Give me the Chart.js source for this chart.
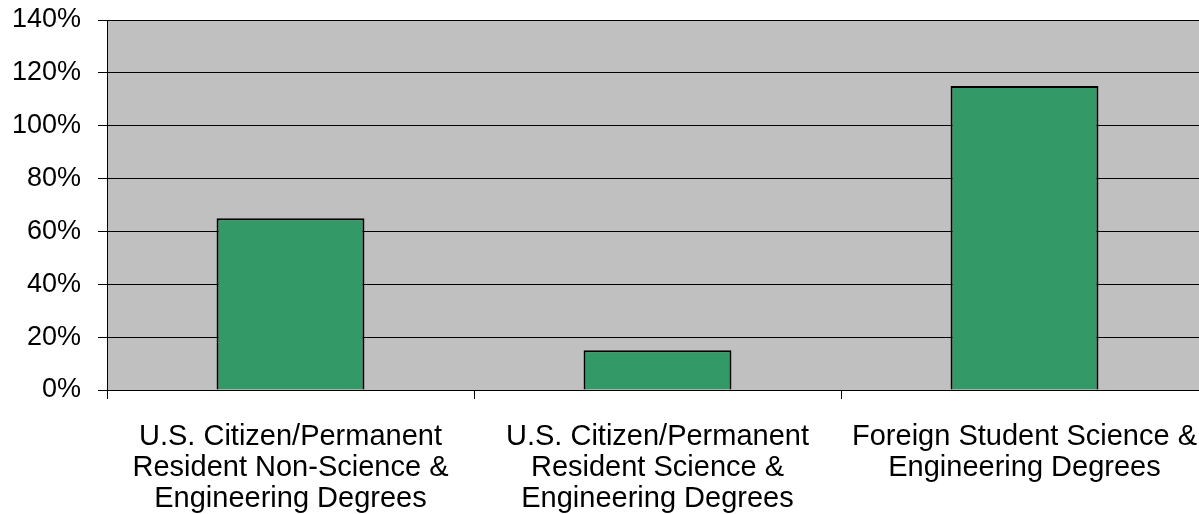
<!DOCTYPE html>
<html>
<head>
<meta charset="utf-8">
<script src="https://cdn.jsdelivr.net/npm/chart.js@4/dist/chart.umd.min.js"></script>
<style>
  body { margin: 0; background: #fff; }
  canvas { display: block; }
</style>
</head>
<body>
<canvas id="chart" width="1199" height="514"></canvas>
<script>
// Chart data
const categories = [
  ["U.S. Citizen/Permanent", "Resident Non-Science &", "Engineering Degrees"],
  ["U.S. Citizen/Permanent", "Resident Science &", "Engineering Degrees"],
  ["Foreign Student Science &", "Engineering Degrees"]
];
const growthValues = [65, 15, 115];
const yMax = 140;
const yStep = 20;

//Gray plot area behind the bars
const plotBackground = {
  id: "plotBackground",
  beforeDraw(chart) {
    const { ctx, chartArea } = chart;
    ctx.save();
    ctx.fillStyle = "#C0C0C0";
    ctx.fillRect(chartArea.left, chartArea.top, chartArea.right - chartArea.left, chartArea.bottom - chartArea.top);
    ctx.restore();
  }
};

//The original plot runs a little past the right edge of the picture
const extendRight = {
  id: "extendRight",
  afterLayout(chart) {
    const rightEdge = chart.width + 9;
    const xScale = chart.scales.x;
    xScale.right = rightEdge;
    xScale.width = xScale.right - xScale.left;
    xScale.configure();
    chart.chartArea.right = rightEdge;
    chart.chartArea.width = chart.chartArea.right - chart.chartArea.left;
  }
};

const family = "'Liberation Sans', Arial, sans-serif";

new Chart(document.getElementById("chart"), {
  type: "bar",
  data: {
    labels: categories,
    datasets: [
      {
        data: growthValues,
        backgroundColor: "#339966",
        borderColor: "#000000",
        borderWidth: 2,
        barPercentage: 0.403,
        categoryPercentage: 1
      }
    ]
  },
  options: {
    responsive: false,
    animation: false,
    layout: { padding: { top: 20, left: 0, right: 0, bottom: 0 } },
    plugins: {
      legend: { display: false },
      tooltip: { enabled: false }
    },
    scales: {
      x: {
        grid: {
          display: true,
          drawOnChartArea: false,
          drawTicks: true,
          tickLength: 9,
          color: "#000000",
          lineWidth: 1
        },
        border: { color: "#000000", width: 1 },
        ticks: {
          color: "#000000",
          font: { family: family, size: 29, lineHeight: 1.07 },
          padding: 22,
          maxRotation: 0,
          autoSkip: false
        },
        afterFit(scale) {
          scale.height = 124;
          scale.paddingLeft = 0;
          scale.paddingRight = 0;
        }
      },
      y: {
        min: 0,
        max: yMax,
        grid: {
          color: "#000000",
          lineWidth: 1,
          tickLength: 9
        },
        border: { color: "#000000", width: 1 },
        ticks: {
          stepSize: yStep,
          color: "#000000",
          font: { family: family, size: 27 },
          padding: 17,
          callback: (v) => v + "%"
        },
        afterFit(scale) {
          scale.width = 107;
          scale.paddingTop = 0;
          scale.paddingBottom = 0;
        }
      }
    }
  },
  plugins: [plotBackground, extendRight]
});
</script>
</body>
</html>
